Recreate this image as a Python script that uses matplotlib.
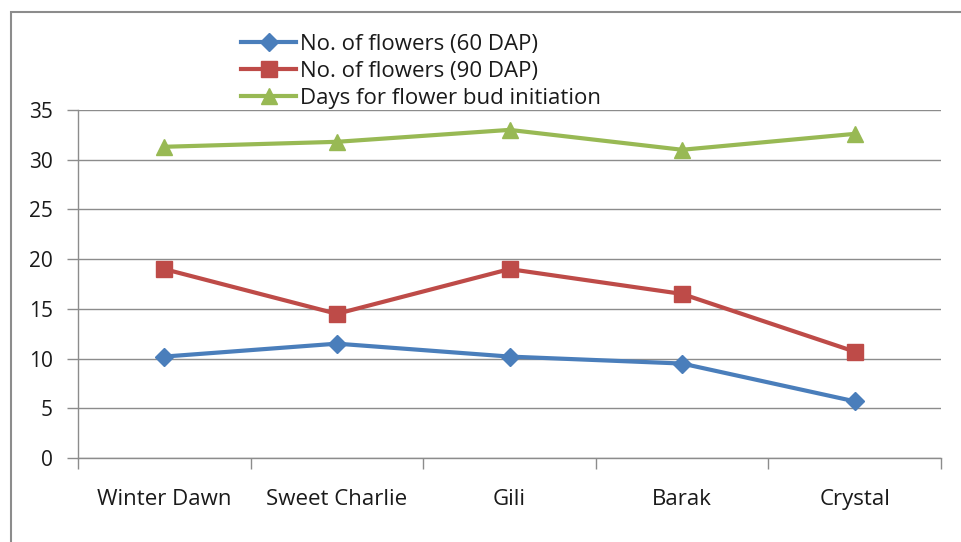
import matplotlib
matplotlib.use("Agg")
import matplotlib.pyplot as plt
from matplotlib.patches import Rectangle
from matplotlib.ticker import FixedLocator, NullFormatter

plt.rcParams['font.family'] = ['Open Sans', 'DejaVu Sans']

categories = ["Winter Dawn", "Sweet Charlie", "Gili", "Barak", "Crystal"]
flowers_60 = [10.2, 11.5, 10.2, 9.5, 5.7]
flowers_90 = [19.0, 14.5, 19.0, 16.5, 10.7]
bud_days = [31.3, 31.8, 33.0, 31.0, 32.6]
series_labels = ["No. of flowers (60 DAP)", "No. of flowers (90 DAP)", "Days for flower bud initiation"]
yticks = [0, 5, 10, 15, 20, 25, 30, 35]

W, H = 961, 542
fig = plt.figure(figsize=(W/100, H/100), dpi=100)
fig.patch.set_facecolor('white')
fig.patches.append(Rectangle((11/W, -0.1), 1.2, 1 - 12/H + 0.1, transform=fig.transFigure,
                             fill=False, edgecolor='#8c8c8c', linewidth=1.5))

ax = fig.add_axes([78/W, 1 - 458/H, (941-78)/W, (458-110)/H])
x = list(range(len(categories)))
l1, = ax.plot(x, flowers_60, color='#4A7EBB', lw=3, marker='D', ms=9, label=series_labels[0])
l2, = ax.plot(x, flowers_90, color='#BE4B48', lw=3, marker='s', ms=11, label=series_labels[1])
l3, = ax.plot(x, bud_days, color='#98B954', lw=3, marker='^', ms=11, label=series_labels[2])

ax.set_xlim(-0.5, len(categories) - 0.5)
ax.set_ylim(0, 35)
ax.set_yticks(yticks)
ax.set_xticks(x)
ax.set_xticklabels(categories, fontsize=16, color='#1a1a1a')
ax.tick_params(axis='x', which='major', length=0, pad=22)
ax.xaxis.set_minor_locator(FixedLocator([i - 0.5 for i in range(len(categories) + 1)]))
ax.xaxis.set_minor_formatter(NullFormatter())
ax.tick_params(axis='x', which='minor', length=8, color='#8c8c8c', width=1)
ax.tick_params(axis='y', length=8, color='#8c8c8c', width=1, labelsize=15, labelcolor='#1a1a1a', pad=10)
ax.yaxis.grid(True, color='#8c8c8c', lw=1)
ax.set_axisbelow(True)
for s in ['top', 'right']:
    ax.spines[s].set_visible(False)
for s in ['left', 'bottom']:
    ax.spines[s].set_color('#8c8c8c')
    ax.spines[s].set_linewidth(1)

leg = fig.legend(handles=[l1, l2, l3], loc='upper left', bbox_to_anchor=(232/W, 1 - 25/H),
                 frameon=False, fontsize=16, handlelength=2.5, handletextpad=0.15,
                 labelspacing=0.27, borderaxespad=0)
for t in leg.get_texts():
    t.set_color('#1a1a1a')

fig.savefig("out.png", dpi=100)
